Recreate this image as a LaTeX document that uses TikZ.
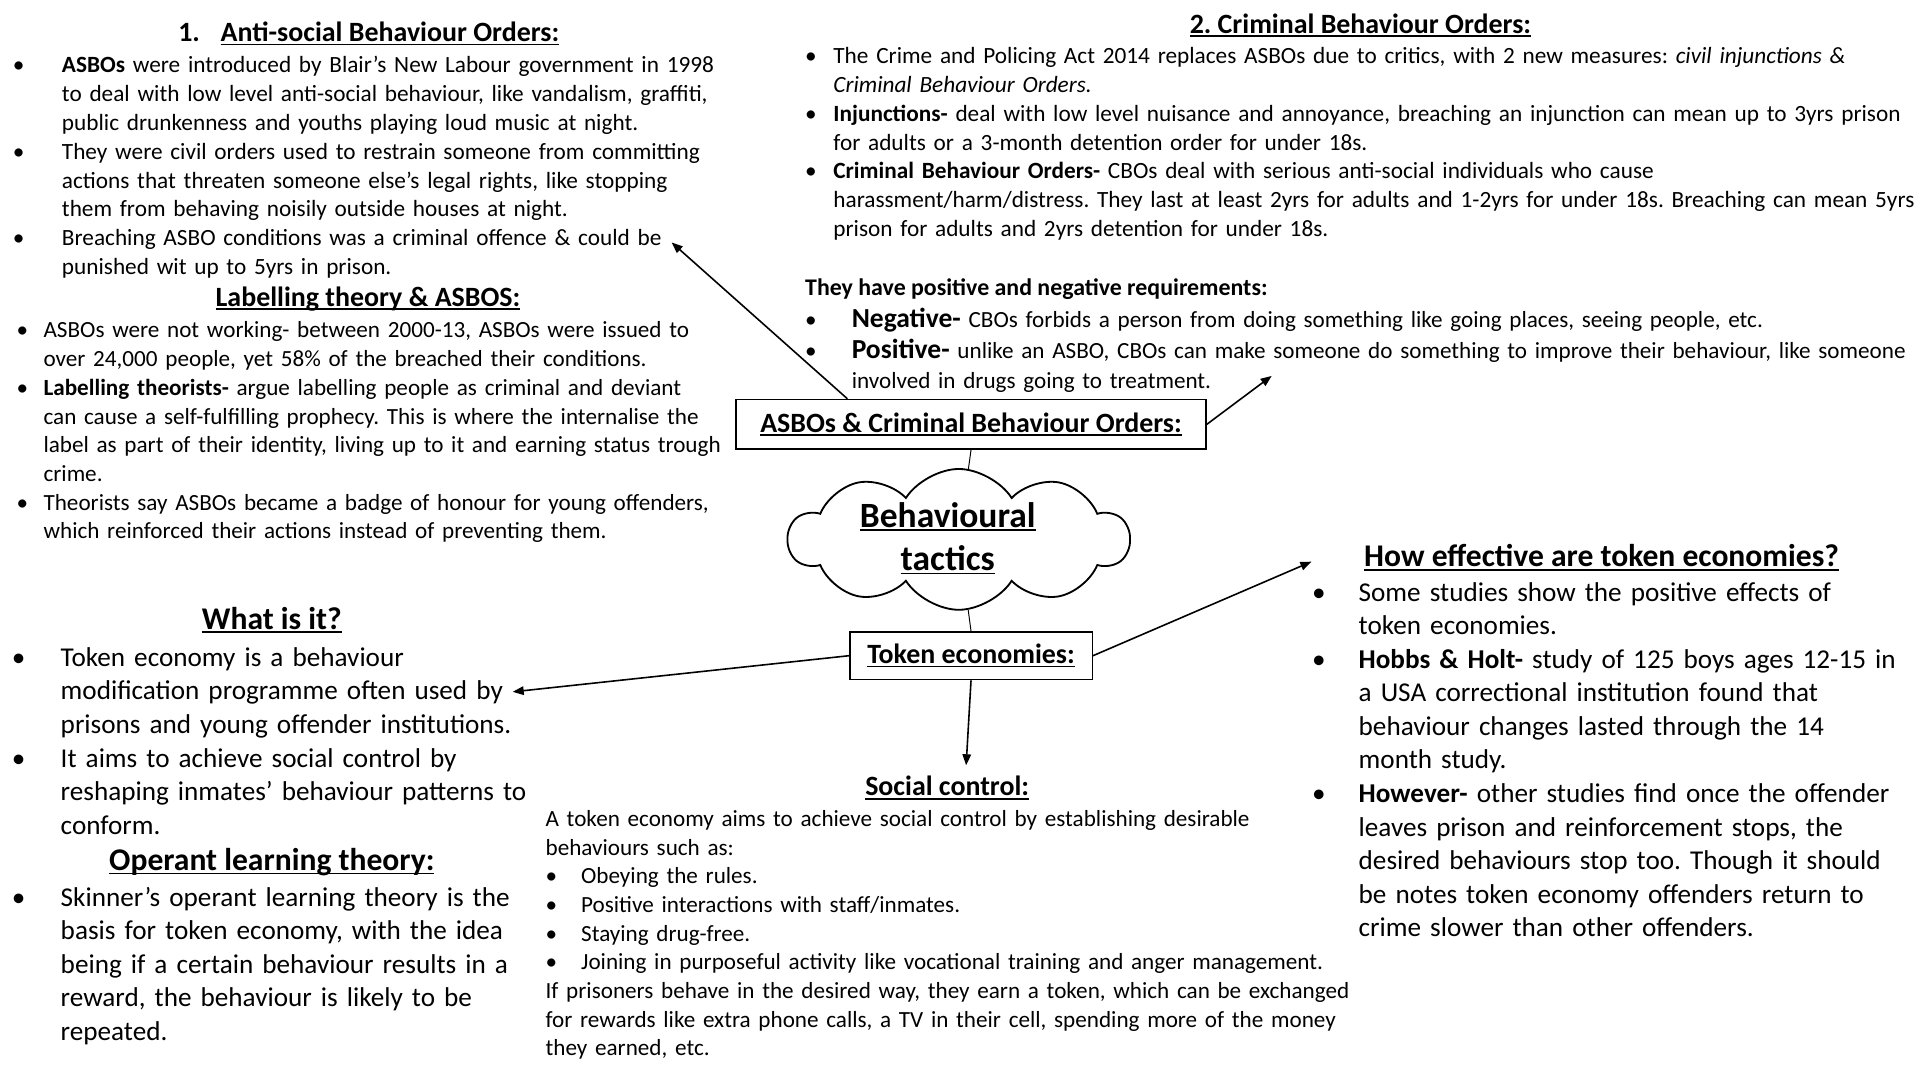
\documentclass[tikz,border=0pt]{standalone}
\usepackage{fontspec}
\setmainfont{Carlito}
\usetikzlibrary{shapes.symbols,arrows.meta}
\frenchspacing
\newcommand\uline[1]{\leavevmode\setbox0\hbox{#1}\rlap{\rule[-3pt]{\wd0}{1.3pt}}\box0}
\newcommand\bitem[2]{\par\noindent\hangindent=#1\hangafter=1\makebox[#1][l]{\textbullet}\strut#2}
\newcommand\pline[1]{\par\noindent\strut#1}
\newcommand\bigb[1]{{\fontsize{22.5}{25}\selectfont\bfseries #1}}
\begin{document}
\begin{tikzpicture}[x=1pt, y=-1pt, line width=1.2pt,
  body/.style = {anchor=north west, inner sep=0pt, text width=950pt, font=\fontsize{19}{23.5}\selectfont},
  bigbody/.style = {anchor=north west, inner sep=0pt, text width=600pt, font=\fontsize{22.2}{27.5}\selectfont},
  head/.style = {anchor=base, inner sep=0pt, font=\fontsize{22.8}{27}\selectfont\bfseries},
  bighead/.style = {anchor=base, inner sep=0pt, font=\fontsize{25.8}{30}\selectfont\bfseries},
  box/.style = {draw, rectangle, inner sep=0pt, font=\fontsize{22.8}{27}\selectfont\bfseries},
  arr/.style = {-{Triangle[length=9pt,width=7pt]}, line width=1.3pt}]
\fill[white] (0,0) rectangle (1568,882);
\useasboundingbox (0,0) rectangle (1568,882);

% ASBOs
\node[head, anchor=base west] (asbohead) at (145,34) {1.\hspace{17pt}\uline{Anti-social Behaviour Orders:}};
\node[body, font=\fontsize{19}{23.6}\selectfont] (asbotext) at (10,35) {%
\bitem{40pt}{\textbf{ASBOs} were introduced by Blair’s New Labour government in 1998\newline to deal with low level anti-social behaviour, like vandalism, graffiti,\newline public drunkenness and youths playing loud music at night.}
\bitem{40pt}{They were civil orders used to restrain someone from committing\newline actions that threaten someone else’s legal rights, like stopping\newline them from behaving noisily outside houses at night.}
\bitem{40pt}{Breaching ASBO conditions was a criminal offence \& could be\newline punished wit up to 5yrs in prison.}\par};
\node[head] (labelhead) at (300.5,250) {\uline{Labelling theory \& ASBOS:}};
\node[body, font=\fontsize{18.9}{23.43}\selectfont] (labeltext) at (13,252) {%
\bitem{22pt}{ASBOs were not working- between 2000-13, ASBOs were issued to\newline over 24,000 people, yet 58\% of the breached their conditions.}
\bitem{22pt}{\textbf{Labelling theorists-} argue labelling people as criminal and deviant\newline can cause a self-fulfilling prophecy. This is where the internalise the\newline label as part of their identity, living up to it and earning status trough\newline crime.}
\bitem{22pt}{Theorists say ASBOs became a badge of honour for young offenders,\newline which reinforced their actions instead of preventing them.}\par};

% CBOs
\node[head] (cbohead) at (1111,27) {\uline{2. Criminal Behaviour Orders:}};
\node[body] (cbotext) at (657,28) {%
\bitem{23pt}{The Crime and Policing Act 2014 replaces ASBOs due to critics, with 2 new measures: \textit{civil injunctions \&}\newline \textit{Criminal Behaviour Orders.}}
\bitem{23pt}{\textbf{Injunctions-} deal with low level nuisance and annoyance, breaching an injunction can mean up to 3yrs prison\newline for adults or a 3-month detention order for under 18s.}
\bitem{23pt}{\textbf{Criminal Behaviour Orders-} CBOs deal with serious anti-social individuals who cause\newline harassment/harm/distress. They last at least 2yrs for adults and 1-2yrs for under 18s. Breaching can mean 5yrs\newline prison for adults and 2yrs detention for under 18s.}\par};
\node[head, anchor=base west, font=\fontsize{19.5}{23.5}\selectfont\bfseries] (reqhead) at (657,241) {They have positive and negative requirements:};
\node[body, font=\fontsize{18.9}{25}\selectfont] (reqtext) at (657,242) {%
\bitem{38pt}{\bigb{Negative-} CBOs forbids a person from doing something like going places, seeing people, etc.}
\bitem{38pt}{\bigb{Positive-} unlike an ASBO, CBOs can make someone do something to improve their behaviour, like someone\newline involved in drugs going to treatment.}\par};

% centre
\node[box, minimum width=384pt, minimum height=40.5pt] (asbobox) at (793,346.5) {\uline{ASBOs \& Criminal Behaviour Orders:}};
\node[cloud, draw, cloud puffs=10, cloud puff arc=115, aspect=2.4, minimum width=278pt, minimum height=115pt, line width=1.5pt] (cloud) at (783,440.5) {};
\node[inner sep=0pt, align=center, font=\fontsize{29}{35.5}\selectfont\bfseries] (tactics) at (774,439.5) {\uline{Behavioural}\\\uline{tactics}};
\node[box, minimum width=198pt, minimum height=39pt] (tokenbox) at (793,535.5) {\uline{Token economies:}};

\coordinate (tipasbo) at (548.5,198);
\coordinate (tipcbo) at (1038.5,307);
\coordinate (tipwhat) at (418.7,565);
\coordinate (tipeff) at (1071,458.7);
\coordinate (tipsoc) at (789,625);

\draw[arr] ([xshift=-101pt]asbobox.north) -- (tipasbo);
\draw[arr] (asbobox.east) -- (tipcbo);
\draw[line width=0.8pt] (asbobox.south) -- (cloud);
\draw[line width=0.8pt] (cloud) -- (tokenbox.north);
\draw[arr] (tokenbox.west) -- (tipwhat);
\draw[arr] (tokenbox.east) -- (tipeff);
\draw[arr] (tokenbox.south) -- (tipsoc);

% token economies
\node[bighead] (whathead) at (222,514) {\uline{What is it?}};
\node[bigbody] (whattext) at (9,516) {%
\bitem{40pt}{Token economy is a behaviour\newline modification programme often used by\newline prisons and young offender institutions.}
\bitem{40pt}{It aims to achieve social control by\newline reshaping inmates’ behaviour patterns to\newline conform.}\par};
\node[bighead] (operanthead) at (222,711) {\uline{Operant learning theory:}};
\node[bigbody, font=\fontsize{22.2}{27.25}\selectfont] (operanttext) at (9,712.5) {%
\bitem{40pt}{Skinner’s operant learning theory is the\newline basis for token economy, with the idea\newline being if a certain behaviour results in a\newline reward, the behaviour is likely to be\newline repeated.}\par};
\node[head] (sochead) at (773.5,650) {\uline{Social control:}};
\node[body, font=\fontsize{18.9}{23.4}\selectfont] (soctext) at (445,651) {%
\pline{A token economy aims to achieve social control by establishing desirable\newline behaviours such as:}
\bitem{29pt}{Obeying the rules.}
\bitem{29pt}{Positive interactions with staff/inmates.}
\bitem{29pt}{Staying drug-free.}
\bitem{29pt}{Joining in purposeful activity like vocational training and anger management.}
\pline{If prisoners behave in the desired way, they earn a token, which can be exchanged\newline for rewards like extra phone calls, a TV in their cell, spending more of the money\newline they earned, etc.}\par};
\node[bighead] (effhead) at (1308,463) {\uline{How effective are token economies?}};
\node[bigbody, font=\fontsize{22.2}{27.4}\selectfont] (efftext) at (1071,463) {%
\bitem{38pt}{Some studies show the positive effects of\newline token economies.}
\bitem{38pt}{\textbf{Hobbs \& Holt-} study of 125 boys ages 12-15 in\newline a USA correctional institution found that\newline behaviour changes lasted through the 14\newline month study.}
\bitem{38pt}{\textbf{However-} other studies find once the offender\newline leaves prison and reinforcement stops, the\newline desired behaviours stop too. Though it should\newline be notes token economy offenders return to\newline crime slower than other offenders.}\par};
\end{tikzpicture}
\end{document}
